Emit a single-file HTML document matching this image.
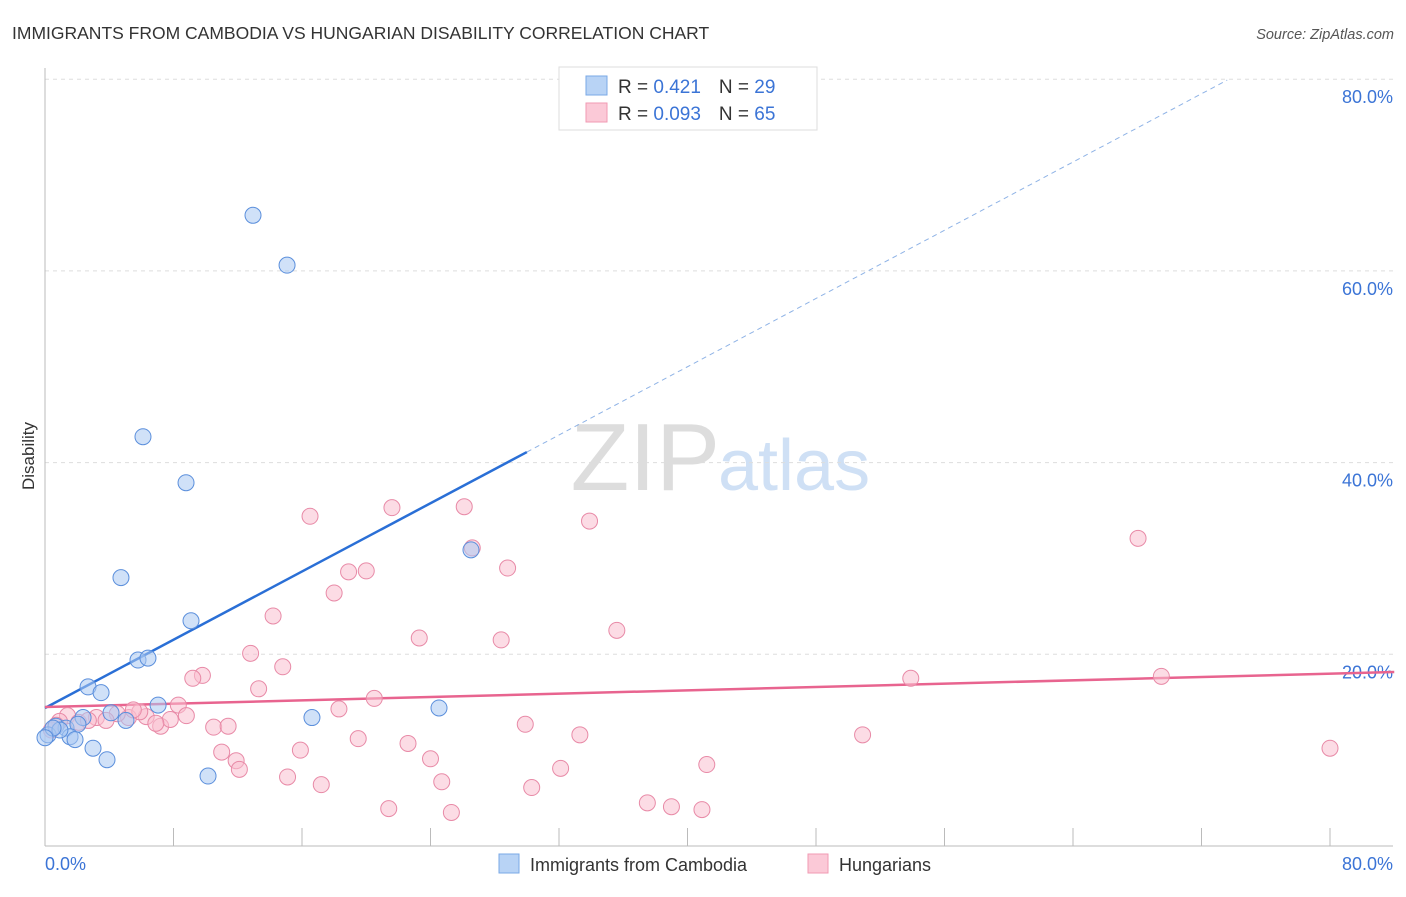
<!DOCTYPE html>
<html><head><meta charset="utf-8"><style>
body{margin:0;background:#fff;font-family:"Liberation Sans",sans-serif;}
svg text{font-family:"Liberation Sans",sans-serif;}
</style></head><body>
<svg id="chart" width="1406" height="892">
<text x="12" y="39" font-size="17.5" fill="#333">IMMIGRANTS FROM CAMBODIA VS HUNGARIAN DISABILITY CORRELATION CHART</text>
<text x="1394" y="39" font-size="14.5" fill="#555" font-style="italic" text-anchor="end">Source: ZipAtlas.com</text>
<text x="720" y="490" font-size="96" fill="#ddd" font-family="Liberation Serif" text-anchor="end">ZIP</text>
<text x="718" y="490" font-size="72" fill="#cfe0f5">atlas</text>
<text transform="translate(34,456) rotate(-90)" font-size="17" fill="#333" text-anchor="middle">Disability</text>
<g id="grid"></g><g id="lines"></g><g id="pts"></g>
<g>
<rect x="559" y="67" width="258" height="63" fill="#fff" stroke="#ddd"/>
<rect x="586" y="76" width="21" height="19" fill="#b8d3f5" stroke="#7aa8e6"/>
<rect x="586" y="103" width="21" height="19" fill="#fbc9d7" stroke="#f09ab3"/>
<text x="618" y="93" font-size="19" fill="#333">R = <tspan fill="#3b74d6"> 0.421</tspan><tspan dx="18" fill="#333">N = </tspan><tspan fill="#3b74d6">29</tspan></text>
<text x="618" y="120" font-size="19" fill="#333">R = <tspan fill="#3b74d6">0.093</tspan><tspan dx="18" fill="#333">N = </tspan><tspan fill="#3b74d6">65</tspan></text>
</g>
<g>
<rect x="499" y="854" width="20" height="19" fill="#b8d3f5" stroke="#7aa8e6"/>
<text x="530" y="871" font-size="18" fill="#333">Immigrants from Cambodia</text>
<rect x="808" y="854" width="20" height="19" fill="#fbc9d7" stroke="#f09ab3"/>
<text x="839" y="871" font-size="18" fill="#333">Hungarians</text>
</g>
<text x="45" y="870" font-size="18" fill="#3b74d6">0.0%</text>
<text x="1393" y="870" font-size="18" fill="#3b74d6" text-anchor="end">80.0%</text>
</svg>
<script>
const yTicks=[20,40,60,80];
const blueX=[12.95,15.07,6.10,8.78,4.73,26.52,9.09,5.79,6.41,2.68,3.49,7.04,24.53,16.62,5.04,4.11,2.37,0.68,1.31,2.05,0.19,1.56,1.87,2.99,3.86,10.15,0.93,0.50,0.0];
const blueY=[65.8,60.6,42.7,37.9,28.0,30.9,23.5,19.4,19.6,16.6,16.0,14.7,14.4,13.4,13.1,13.9,13.4,12.5,12.3,12.7,11.6,11.4,11.1,10.2,9.0,7.3,12.1,12.3,11.3];
const pinkX=[16.5,21.6,26.1,33.9,68.05,26.6,28.8,18.9,20.0,18.0,14.2,23.3,28.4,35.6,12.8,14.8,9.8,9.2,13.3,20.5,8.3,18.3,53.9,69.5,29.9,10.5,11.4,7.2,7.8,8.8,6.3,6.9,5.2,4.5,3.2,3.8,1.4,0.9,2.1,19.5,22.6,33.3,50.9,80.0,11.0,15.9,11.9,24.0,12.1,32.1,41.2,15.1,24.7,17.2,30.3,21.4,25.3,37.5,39.0,40.9,0.4,0.7,2.7,5.9,5.5];
const pinkY=[34.4,35.3,35.4,33.9,32.1,31.1,29.0,28.6,28.7,26.4,24.0,21.7,21.5,22.5,20.1,18.7,17.8,17.5,16.4,15.4,14.7,14.3,17.5,17.7,12.7,12.4,12.5,12.5,13.2,13.6,13.5,12.8,13.4,13.8,13.4,13.1,13.6,13.0,12.9,11.2,10.7,11.6,11.6,10.2,9.8,10.0,8.9,9.1,8.0,8.1,8.5,7.2,6.7,6.4,6.1,3.9,3.5,4.5,4.1,3.8,12.1,12.6,13.1,14.0,14.2];
const blueTrend=[14.4,0.89];
const pinkTrend=[14.5,0.0435];
const NS="http://www.w3.org/2000/svg";
const sx=v=>45+v*1285/80, sy=v=>846-v*191.7/20;
function mk(tag,attrs,parent){const e=document.createElementNS(NS,tag);for(const k in attrs)e.setAttribute(k,attrs[k]);document.getElementById(parent).appendChild(e);return e;}
yTicks.forEach(t=>{
 const l=mk('line',{x1:45,x2:1393,y1:sy(t),y2:sy(t),stroke:'#ddd','stroke-dasharray':'4,4'},'grid');
 
 
 const tx=mk('text',{x:1393,y:sy(t)+24,'font-size':18,fill:'#3b74d6','text-anchor':'end'},'grid');
 tx.textContent=t.toFixed(1)+'%';
 
 
});
mk('line',{x1:45,x2:45,y1:68,y2:846,stroke:'#bbb'},'grid');
mk('line',{x1:45,x2:1393,y1:846,y2:846,stroke:'#bbb'},'grid');
for(let k=1;k<=10;k++){mk('line',{x1:sx(k*8),x2:sx(k*8),y1:828,y2:846,stroke:'#bbb'},'grid');}
function trend(c,x0,x1,col,dash,name){
 const l=mk('line',{x1:sx(x0),y1:sy(c[0]+c[1]*x0),x2:sx(x1),y2:sy(c[0]+c[1]*x1),stroke:col,'stroke-width':dash?1:2.5,'stroke-dasharray':dash?'5,4':'none'},'lines');
 
 
}
trend(blueTrend,0,30,'#2a6fd6',false,'trend-cambodia');
trend(blueTrend,30,73.6,'#8fb3e6',true,'trend-cambodia-extension');
trend(pinkTrend,0,84,'#e8648f',false,'trend-hungarians');
function pts(xs,ys,fill,stroke,name){
 xs.forEach((x,i)=>{
  const c=mk('circle',{cx:sx(x),cy:sy(ys[i]),r:8,fill:fill,'fill-opacity':0.55,stroke:stroke,'stroke-width':1},'pts');
  
  
 });
}
pts(pinkX,pinkY,'#f9bfd0','#e88aa7','point-hungarians');
pts(blueX,blueY,'#a9c9f2','#5b8fdc','point-cambodia');
</script>
</body></html>
